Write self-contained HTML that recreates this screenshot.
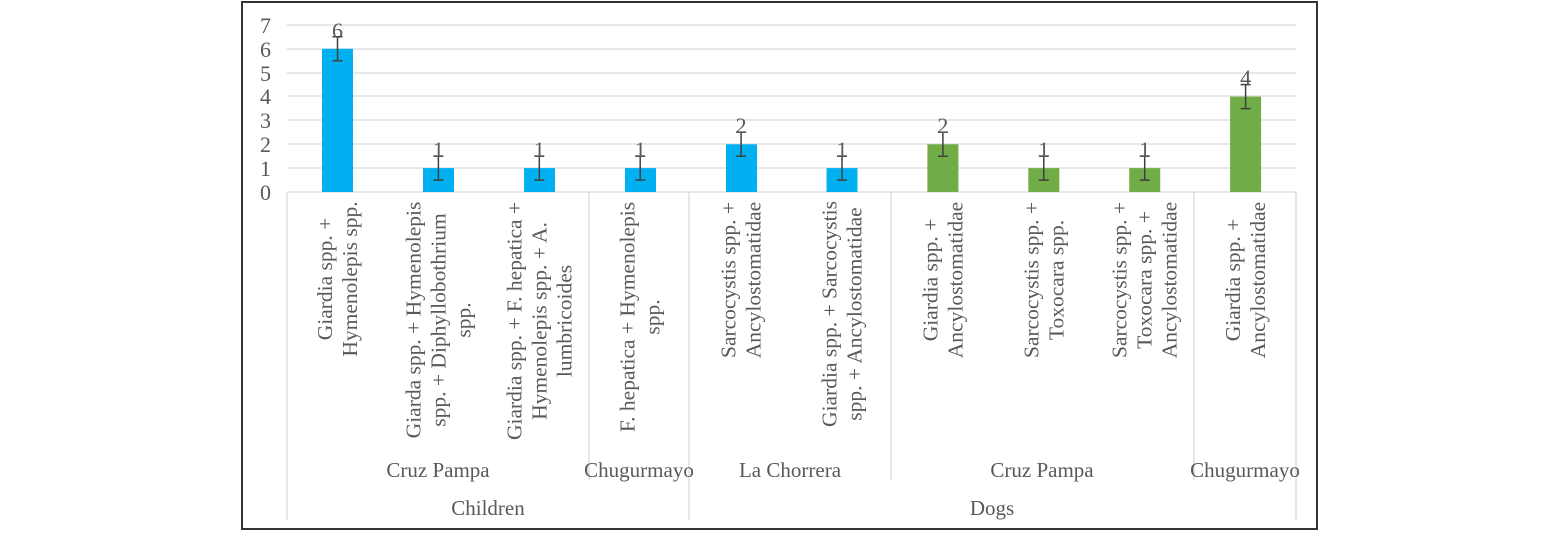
<!DOCTYPE html><html><head><style>body{margin:0;background:#fff}</style></head><body>
<svg width="1559" height="531" xmlns="http://www.w3.org/2000/svg" font-family="Liberation Serif, serif" fill="#595959">
<rect x="242" y="2" width="1075" height="527" fill="#fff" stroke="#333" stroke-width="2"/>
<g stroke="#d9d9d9" stroke-width="1.3">
<line x1="287" x2="1296" y1="25" y2="25"/><line x1="287" x2="1296" y1="49" y2="49"/><line x1="287" x2="1296" y1="73" y2="73"/><line x1="287" x2="1296" y1="96" y2="96"/><line x1="287" x2="1296" y1="120" y2="120"/><line x1="287" x2="1296" y1="144" y2="144"/><line x1="287" x2="1296" y1="168" y2="168"/><line x1="287" x2="1296" y1="192" y2="192"/>
<line x1="287" x2="287" y1="192" y2="520"/><line x1="589" x2="589" y1="192" y2="480"/><line x1="689" x2="689" y1="192" y2="520"/><line x1="891" x2="891" y1="192" y2="480"/><line x1="1194" x2="1194" y1="192" y2="480"/><line x1="1296" x2="1296" y1="192" y2="520"/>
</g>
<g font-size="22" text-anchor="end">
<text x="271" y="33">7</text><text x="271" y="57">6</text><text x="271" y="81">5</text><text x="271" y="104">4</text><text x="271" y="128">3</text><text x="271" y="152">2</text><text x="271" y="176">1</text><text x="271" y="200">0</text></g>

<g fill="#00b0f0">
<rect x="322" y="48.8" width="31" height="143.2"/>
<rect x="423" y="168.1" width="31" height="23.9"/>
<rect x="524" y="168.1" width="31" height="23.9"/>
<rect x="625" y="168.1" width="31" height="23.9"/>
<rect x="726" y="144.3" width="31" height="47.7"/>
<rect x="826.5" y="168.1" width="31" height="23.9"/>
</g>
<g fill="#70ad47">
<rect x="927.4" y="144.3" width="31" height="47.7"/>
<rect x="1028.3" y="168.1" width="31" height="23.9"/>
<rect x="1129.2" y="168.1" width="31" height="23.9"/>
<rect x="1230.1" y="96.6" width="31" height="95.4"/>
</g>
<g stroke="#404040" stroke-width="1.5" fill="none">
<path d="M337.5 36.8V60.8M332.5 36.8H342.5M332.5 60.8H342.5"/>
<path d="M438.4 156.1V180.1M433.4 156.1H443.4M433.4 180.1H443.4"/>
<path d="M539.3 156.1V180.1M534.3 156.1H544.3M534.3 180.1H544.3"/>
<path d="M640.2 156.1V180.1M635.2 156.1H645.2M635.2 180.1H645.2"/>
<path d="M741.1 132.3V156.3M736.1 132.3H746.1M736.1 156.3H746.1"/>
<path d="M842 156.1V180.1M837 156.1H847M837 180.1H847"/>
<path d="M942.9 132.3V156.3M937.9 132.3H947.9M937.9 156.3H947.9"/>
<path d="M1043.8 156.1V180.1M1038.8 156.1H1048.8M1038.8 180.1H1048.8"/>
<path d="M1144.7 156.1V180.1M1139.7 156.1H1149.7M1139.7 180.1H1149.7"/>
<path d="M1245.6 84.6V108.6M1240.6 84.6H1250.6M1240.6 108.6H1250.6"/>
</g>
<g font-size="22" text-anchor="middle">
<text x="337.5" y="38">6</text><text x="438.4" y="157">1</text><text x="539.3" y="157">1</text><text x="640.2" y="157">1</text><text x="741.1" y="133">2</text><text x="842" y="157">1</text><text x="942.9" y="133">2</text><text x="1043.8" y="157">1</text><text x="1144.7" y="157">1</text><text x="1245.6" y="85">4</text>
</g>
<g font-size="21.5" text-anchor="middle">
<text transform="translate(332,279) rotate(-90)">Giardia spp. +</text>
<text transform="translate(357,279) rotate(-90)">Hymenolepis spp.</text>
<text transform="translate(420.4,320) rotate(-90)">Giarda spp. + Hymenolepis</text>
<text transform="translate(445.4,320) rotate(-90)">spp. + Diphyllobothrium</text>
<text transform="translate(470.4,320) rotate(-90)">spp.</text>
<text transform="translate(521.3,321) rotate(-90)">Giardia spp. + F. hepatica +</text>
<text transform="translate(546.3,321) rotate(-90)">Hymenolepis spp. + A.</text>
<text transform="translate(571.3,321) rotate(-90)">lumbricoides</text>
<text transform="translate(634.7,317) rotate(-90)">F. hepatica + Hymenolepis</text>
<text transform="translate(659.7,317) rotate(-90)">spp.</text>
<text transform="translate(735.6,280) rotate(-90)">Sarcocystis spp. +</text>
<text transform="translate(760.6,280) rotate(-90)">Ancylostomatidae</text>
<text transform="translate(836.5,314) rotate(-90)">Giardia spp. + Sarcocystis</text>
<text transform="translate(861.5,314) rotate(-90)">spp. + Ancylostomatidae</text>
<text transform="translate(937.4,280) rotate(-90)">Giardia spp. +</text>
<text transform="translate(962.4,280) rotate(-90)">Ancylostomatidae</text>
<text transform="translate(1038.3,280) rotate(-90)">Sarcocystis spp. +</text>
<text transform="translate(1063.3,280) rotate(-90)">Toxocara spp.</text>
<text transform="translate(1126.7,280) rotate(-90)">Sarcocystis spp. +</text>
<text transform="translate(1151.7,280) rotate(-90)">Toxocara spp. +</text>
<text transform="translate(1176.7,280) rotate(-90)">Ancylostomatidae</text>
<text transform="translate(1240.1,280) rotate(-90)">Giardia spp. +</text>
<text transform="translate(1265.1,280) rotate(-90)">Ancylostomatidae</text>
</g>
<g font-size="21" text-anchor="middle">
<text x="438" y="477">Cruz Pampa</text><text x="639" y="477">Chugurmayo</text><text x="790" y="477">La Chorrera</text><text x="1042" y="477">Cruz Pampa</text><text x="1245" y="477">Chugurmayo</text>
<text x="488" y="515">Children</text><text x="992" y="515">Dogs</text>
</g>
</svg></body></html>
